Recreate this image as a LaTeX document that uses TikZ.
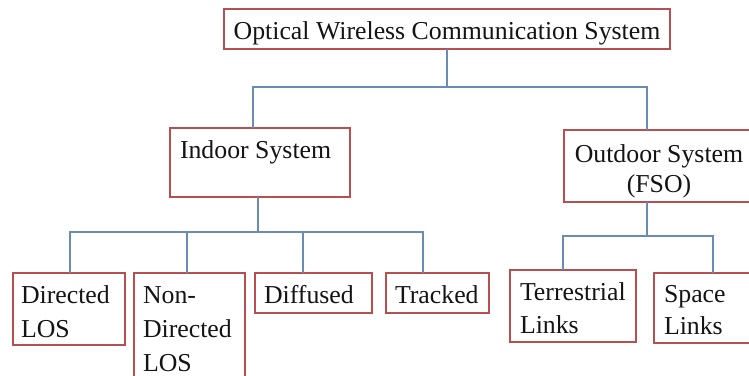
\documentclass[tikz,border=0pt]{standalone}
\usepackage{fontspec}
\setmainfont{Liberation Serif}
\definecolor{boxred}{RGB}{185,78,80}
\definecolor{wireblue}{RGB}{105,140,180}
\definecolor{inkcol}{RGB}{20,20,20}
\begin{document}
\begin{tikzpicture}[x=1pt,y=-1pt,
  box/.style={draw=boxred,line width=1.8pt,fill=white,inner sep=0pt,outer sep=0pt},
  wire/.style={draw=wireblue,line width=1.2pt},
  txt/.style={inner sep=0pt,outer sep=0pt,align=left,anchor=north west,
    text=inkcol,font=\fontsize{25.8}{34}\selectfont}]
\useasboundingbox (0,0) rectangle (749,375);
\clip (0,0) rectangle (749,375);

% boxes
\node[box,minimum width=446pt,minimum height=40pt] (top) at (447,29) {};
\node[box,minimum width=180pt,minimum height=69pt] (indoor) at (260,162.5) {};
\node[box,minimum width=192pt,minimum height=72pt] (outdoor) at (660,166) {};
\node[box,minimum width=112pt,minimum height=72pt] (dirlos) at (69,309) {};
\node[box,minimum width=111pt,minimum height=122pt] (nondir) at (189.5,334) {};
\node[box,minimum width=117pt,minimum height=40pt] (diffused) at (313.5,293) {};
\node[box,minimum width=103pt,minimum height=40pt] (tracked) at (437.5,293) {};
\node[box,minimum width=126pt,minimum height=72pt] (terr) at (573,306) {};
\node[box,minimum width=104pt,minimum height=70pt] (space) at (706,308) {};

% labels
\node[txt,anchor=north,align=center] (t-top) at (447,15.2) {\strut Optical Wireless Communication System};
\node[txt] (t-indoor) at (180,134.2) {\strut Indoor System};
\node[txt,anchor=north,align=center,font=\fontsize{25.8}{30}\selectfont] (t-outdoor) at (659,141) {\strut Outdoor System\\(FSO)};
\node[txt] (t-dirlos) at (21,279.2) {\strut Directed\\LOS};
\node[txt] (t-nondir) at (143,279.2) {\strut Non-\\Directed\\LOS};
\node[txt] (t-diffused) at (264,279.2) {\strut Diffused};
\node[txt] (t-tracked) at (395,279.2) {\strut Tracked};
\node[txt,font=\fontsize{25.8}{33}\selectfont] (t-terr) at (520,276.9) {\strut Terrestrial\\Links};
\node[txt,font=\fontsize{25.8}{32}\selectfont] (t-space) at (664,279.6) {\strut Space\\Links};

% level one connectors
\coordinate (j1) at (447,87);
\draw[wire] (top.south) -- (j1);
\draw[wire] ([xshift=-7pt]indoor.north) |- (j1) -| ([xshift=-13pt]outdoor.north);

% indoor branches
\coordinate (j2) at (258,232);
\draw[wire] ([xshift=-2pt]indoor.south) -- (j2);
\draw[wire] ([xshift=1pt]dirlos.north) |- (j2) -| ([xshift=-14.5pt]tracked.north);
\draw[wire] ([xshift=-2.5pt]nondir.north) -- ([xshift=-2.5pt]nondir.north |- j2);
\draw[wire] ([xshift=-10.5pt]diffused.north) -- ([xshift=-10.5pt]diffused.north |- j2);

% outdoor branches
\coordinate (j3) at (647,236);
\draw[wire] ([xshift=-13pt]outdoor.south) -- (j3);
\draw[wire] ([xshift=-10pt]terr.north) |- (j3) -| ([xshift=7pt]space.north);
\end{tikzpicture}
\end{document}
